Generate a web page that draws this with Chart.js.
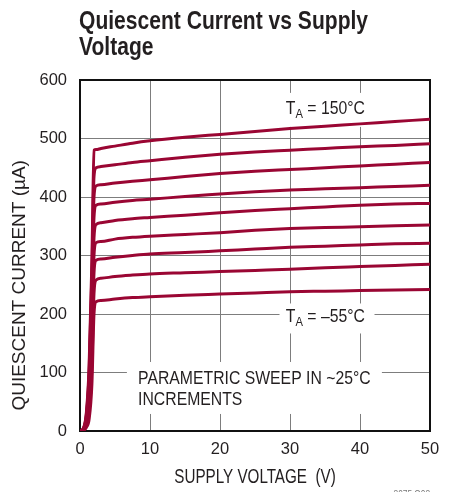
<!DOCTYPE html>
<html>
<head>
<meta charset="utf-8">
<script src="https://cdn.jsdelivr.net/npm/chart.js@4/dist/chart.umd.min.js"></script>
<style>
  html, body { margin: 0; padding: 0; background: #fff; }
  #wrap { position: relative; width: 466px; height: 492px; }
  #title {
    position: absolute; left: 79px; top: 7px;
    font: bold 26px/26px 'Liberation Sans', Arial, sans-serif;
    color: #231f20; white-space: nowrap;
    transform: scaleX(0.81); transform-origin: 0 0;
  }
  canvas { position: absolute; left: 0; top: 0; }
</style>
</head>
<body>
<div id="wrap">
  <canvas id="c" width="466" height="492"></canvas>
  <div id="title">Quiescent Current vs Supply<br>Voltage</div>
</div>
<script>
// Supply voltage sample points (V), shared by every temperature curve
const voltage = [0, 0.5, 0.9, 1.3, 1.7, 2.0, 2.3, 3, 5, 7.5, 10, 15, 20, 25, 30, 35, 40, 45, 50];

// Quiescent current (µA), one curve per ambient temperature step
const iq150 = [0, 5, 30, 110, 290, 480, 481, 483, 487, 492, 496, 502, 507, 512, 517, 521, 525, 529, 533];
const iq120 = [0, 4.5, 27, 100, 270, 435, 450, 452, 455, 459, 462, 468, 473, 477, 480, 483, 486, 488, 491];
const iq95  = [0, 4, 24, 90, 250, 400, 419, 421, 424, 427, 429.5, 435, 440, 444, 447, 450, 453, 456, 459];
const iq70  = [0, 3.5, 21, 80, 225, 365, 386, 388, 391, 394, 396, 401, 405, 409, 412, 414, 416, 418, 420];
const iq45  = [0, 3, 18, 68, 200, 330, 353, 356, 360, 363, 365, 369, 373, 377, 380, 383, 386, 388, 389];
const iq20  = [0, 2.5, 15, 56, 170, 300, 322, 324, 328, 331, 333, 336, 339, 343, 346, 348, 349, 351, 352];
const iqM5  = [0, 2, 12, 44, 140, 270, 292, 294, 297, 300, 302.5, 305, 308, 311, 314, 316, 318, 320, 321];
const iqM30 = [0, 1.5, 9, 32, 110, 235, 258, 261, 264, 266.5, 268.5, 270.5, 272.5, 274.5, 276.5, 279, 281, 283, 285];
const iqM55 = [0, 1, 6, 20, 80, 200, 221, 223, 225.5, 228, 229.5, 232, 234, 236, 238, 239, 240, 241, 242];

const curves = [iq150, iq120, iq95, iq70, iq45, iq20, iqM5, iqM30, iqM55];
const curveNames = ['150°C', '120°C', '95°C', '70°C', '45°C', '20°C', '–5°C', '–30°C', '–55°C'];

// Axis tick values
const xTicks = [0, 10, 20, 30, 40, 50];
const yTicks = [0, 100, 200, 300, 400, 500, 600];

const SANS = "'Liberation Sans', Arial, sans-serif";
const INK = '#231f20';
const RED = '#9a0633';

// draw one run of horizontally squeezed text, returns its drawn width
function condensed(ctx, text, px, py, size, align, squeeze) {
  const sq = squeeze || 0.83;
  ctx.save();
  ctx.font = size + 'px ' + SANS;
  const w = ctx.measureText(text).width * sq;
  let left = px;
  if (align === 'center') left = px - w / 2;
  else if (align === 'right') left = px - w;
  ctx.translate(left, py);
  ctx.scale(sq, 1);
  ctx.textAlign = 'left';
  ctx.fillText(text, 0, 0);
  ctx.restore();
  return w;
}

// Annotations inside the plot on white boxes that cut the grid, plus frame and axis titles
const notes = {
  id: 'notes',
  beforeDatasetsDraw(chart) {
    const { ctx, chartArea: a, scales: { x, y } } = chart;
    ctx.save();

    ctx.fillStyle = '#fff';
    const boxes = [
      [x.getPixelForValue(28.8), y.getPixelForValue(578), 91, 34],
      [x.getPixelForValue(28.5), y.getPixelForValue(218), 95, 30],
      [x.getPixelForValue(6.7), y.getPixelForValue(118), 255, 52]
    ];
    boxes.forEach(b => ctx.fillRect(b[0], b[1], b[2], b[3]));

    ctx.strokeStyle = '#111';
    ctx.lineWidth = 2;
    ctx.strokeRect(a.left, a.top, a.right - a.left, a.bottom - a.top);

    ctx.fillStyle = INK;
    ctx.textBaseline = 'alphabetic';
    const ta = (px, py, rest) => {
      let w = condensed(ctx, 'T', px, py, 19, 'left');
      w += condensed(ctx, 'A', px + w, py + 4, 13.5, 'left');
      condensed(ctx, rest, px + w, py, 19, 'left');
    };
    ta(x.getPixelForValue(29.4), y.getPixelForValue(542), ' = 150°C');
    ta(x.getPixelForValue(29.4), y.getPixelForValue(187), ' = –55°C');

    condensed(ctx, 'PARAMETRIC SWEEP IN ~25°C', x.getPixelForValue(8.3), y.getPixelForValue(80), 19, 'left');
    condensed(ctx, 'INCREMENTS', x.getPixelForValue(8.3), y.getPixelForValue(44), 19, 'left');

    condensed(ctx, 'SUPPLY VOLTAGE  (V)', (a.left + a.right) / 2, a.bottom + 52, 19.5, 'center', 0.78);
    ctx.save();
    ctx.translate(20, a.top + 0.585 * (a.bottom - a.top));
    ctx.rotate(-Math.PI / 2);
    ctx.textBaseline = 'middle';
    condensed(ctx, 'QUIESCENT CURRENT (µA)', 0, 0, 19, 'center', 1.0);
    ctx.restore();

    ctx.fillStyle = '#777';
    condensed(ctx, '3075 G03', a.right, a.bottom + 67, 10, 'right');
    ctx.restore();
  }
};

new Chart(document.getElementById('c'), {
  type: 'line',
  data: {
    datasets: curves.map((cur, i) => ({
      label: curveNames[i],
      data: voltage.map((v, k) => ({ x: v, y: cur[k] })),
      borderColor: RED,
      borderWidth: 3,
      pointRadius: 0,
      cubicInterpolationMode: 'monotone',
      fill: false
    }))
  },
  options: {
    responsive: false,
    animation: false,
    layout: { padding: { left: 0, right: 36, top: 80, bottom: 0 } },
    plugins: {
      legend: { display: false },
      tooltip: { enabled: false },
      title: { display: false }
    },
    scales: {
      x: {
        type: 'linear', min: 0, max: 50,
        afterBuildTicks: s => { s.ticks = xTicks.map(v => ({ value: v })); },
        afterFit: s => { s.height = 61; },
        grid: { color: '#7d7d7d', lineWidth: 1, drawTicks: false },
        border: { display: false },
        ticks: { color: INK, padding: 9, font: { family: SANS, size: 16.5 } }
      },
      y: {
        type: 'linear', min: 0, max: 600,
        afterBuildTicks: s => { s.ticks = yTicks.map(v => ({ value: v })); },
        afterFit: s => { s.width = 80; },
        grid: { color: '#7d7d7d', lineWidth: 1, drawTicks: false },
        border: { display: false },
        ticks: { color: INK, padding: 13, font: { family: SANS, size: 16.5 } }
      }
    }
  },
  plugins: [notes]
});
</script>
</body>
</html>
